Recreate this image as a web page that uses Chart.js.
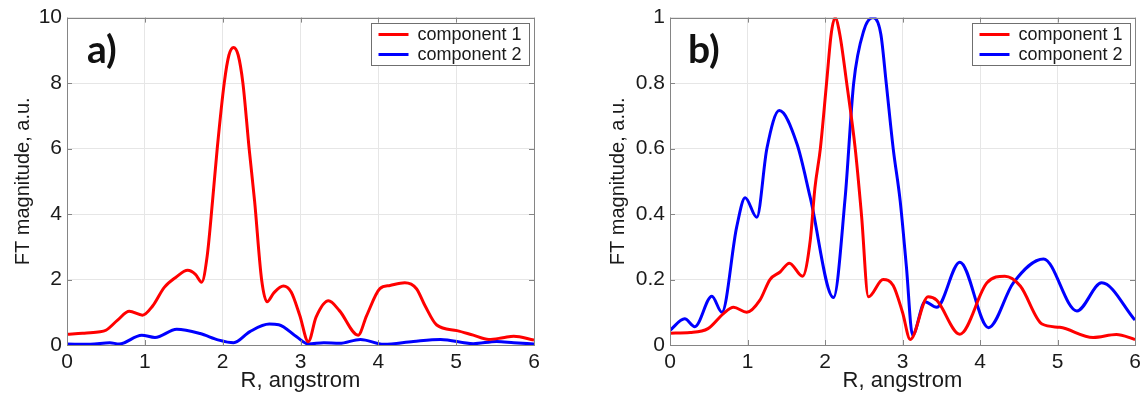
<!DOCTYPE html>
<html>
<head>
<meta charset="utf-8">
<script src="https://cdn.jsdelivr.net/npm/chart.js@4.4.1/dist/chart.umd.min.js"></script>
<style>
  html, body { margin: 0; padding: 0; background: #ffffff; }
  body { width: 1146px; height: 398px; position: relative; overflow: hidden; }
  .wrap { position: absolute; top: 0; width: 573px; height: 398px; }
  #wa { left: 0; }
  #wb { left: 573px; }
</style>
</head>
<body>
<div class="wrap" id="wa"><canvas id="ca" width="573" height="398"></canvas></div>
<div class="wrap" id="wb"><canvas id="cb" width="573" height="398"></canvas></div>
<script>
// ---------- data ----------
const seriesLabels = ['component 1', 'component 2'];
const panelLabels = ['a)', 'b)'];
const xTitle = 'R, angstrom';
const yTitle = 'FT magnitude, a.u.';
const xTicks = [0, 1, 2, 3, 4, 5, 6];
const yTicksA = [0, 2, 4, 6, 8, 10];
const yTicksB = [0, 0.2, 0.4, 0.6, 0.8, 1];

// panel a) component 1
const rA1 = [0, 0.2, 0.4, 0.5, 0.65, 0.8, 0.97, 1.1, 1.25, 1.4, 1.55, 1.65, 1.73, 1.8, 1.87, 1.93, 2.02, 2.08, 2.14, 2.2, 2.26, 2.34, 2.41, 2.5, 2.57, 2.66, 2.78, 2.88, 2.99, 3.1, 3.2, 3.36, 3.5, 3.74, 3.85, 4.02, 4.15, 4.34, 4.49, 4.6, 4.75, 5.01, 5.22, 5.42, 5.6, 5.74, 6.0];
const vA1 = [0.33, 0.36, 0.40, 0.45, 0.76, 1.03, 0.91, 1.19, 1.76, 2.07, 2.28, 2.16, 1.92, 2.7, 4.4, 6.0, 8.0, 8.85, 9.09, 8.85, 8.0, 6.0, 4.4, 2.0, 1.32, 1.6, 1.80, 1.62, 0.91, 0.10, 0.85, 1.35, 1.05, 0.30, 0.9, 1.72, 1.82, 1.90, 1.72, 1.2, 0.61, 0.44, 0.30, 0.17, 0.22, 0.27, 0.15];
// panel a) component 2
const rA2 = [0, 0.3, 0.55, 0.67, 0.96, 1.13, 1.41, 1.71, 1.95, 2.14, 2.35, 2.6, 2.72, 2.95, 3.1, 3.3, 3.5, 3.77, 4.07, 4.45, 4.8, 5.22, 5.52, 5.74, 6.0];
const vA2 = [0.03, 0.02, 0.07, 0.03, 0.30, 0.23, 0.48, 0.35, 0.15, 0.07, 0.41, 0.64, 0.62, 0.25, 0.03, 0.07, 0.05, 0.17, 0.02, 0.11, 0.17, 0.04, 0.11, 0.07, 0.03];
// panel b) component 1
const rB1 = [0, 0.26, 0.49, 0.69, 0.82, 0.99, 1.16, 1.29, 1.42, 1.54, 1.71, 1.81, 1.87, 1.94, 2.02, 2.08, 2.13, 2.19, 2.28, 2.39, 2.47, 2.56, 2.75, 2.88, 3.0, 3.1, 3.33, 3.44, 3.74, 4.09, 4.32, 4.52, 4.8, 5.03, 5.46, 5.76, 6.0];
const vB1 = [0.036, 0.038, 0.05, 0.096, 0.115, 0.10, 0.137, 0.20, 0.223, 0.25, 0.21, 0.32, 0.48, 0.6, 0.8, 0.95, 1.0, 0.95, 0.8, 0.6, 0.40, 0.147, 0.20, 0.182, 0.10, 0.017, 0.147, 0.137, 0.033, 0.19, 0.21, 0.18, 0.064, 0.054, 0.023, 0.032, 0.017];
// panel b) component 2
const rB2 = [0, 0.19, 0.32, 0.54, 0.67, 0.86, 0.97, 1.12, 1.25, 1.41, 1.64, 1.81, 2.11, 2.26, 2.37, 2.5, 2.62, 2.72, 2.79, 2.88, 2.97, 3.05, 3.13, 3.29, 3.44, 3.74, 4.11, 4.43, 4.82, 5.25, 5.57, 6.0];
const vB2 = [0.045, 0.08, 0.056, 0.149, 0.10, 0.36, 0.45, 0.39, 0.6, 0.716, 0.613, 0.45, 0.145, 0.45, 0.8, 0.96, 1.0, 0.95, 0.8, 0.6, 0.44, 0.24, 0.03, 0.132, 0.115, 0.253, 0.053, 0.19, 0.263, 0.104, 0.19, 0.076];

// ---------- styling ----------
const RED = '#ff0000';
const BLUE = '#0000ff';
const TXT = '#1a1a1a';
const GRID = '#e6e6e6';
const FRAME = '#858585';
const FONT = "'Liberation Sans', Arial, sans-serif";

function pts(xs, ys) { return xs.map((x, i) => ({ x: x, y: ys[i] })); }

const framePlugin = {
  id: 'frame',
  afterDatasetsDraw(chart, args, opts) {
    const { ctx, chartArea: a, scales } = chart;
    ctx.save();
    ctx.strokeStyle = FRAME;
    ctx.lineWidth = 1;
    ctx.beginPath();
    const tl = 5;
    scales.y.ticks.forEach(t => {
      const y = Math.round(scales.y.getPixelForValue(t.value)) + 0.5;
      ctx.moveTo(a.left, y); ctx.lineTo(a.left + tl, y);
      ctx.moveTo(a.right, y); ctx.lineTo(a.right - tl, y);
    });
    scales.x.ticks.forEach(t => {
      const x = Math.round(scales.x.getPixelForValue(t.value)) + 0.5;
      ctx.moveTo(x, a.bottom); ctx.lineTo(x, a.bottom - tl);
      ctx.moveTo(x, a.top); ctx.lineTo(x, a.top + tl);
    });
    ctx.stroke();
    ctx.strokeRect(Math.round(a.left) + 0.5, Math.round(a.top) + 0.5,
                   Math.round(a.right - a.left), Math.round(a.bottom - a.top));

    // legend box (built from the datasets)
    const bw = 158, bh = 42;
    const bx = Math.round(a.right - 5 - bw) + 0.5, by = Math.round(a.top + 5) + 0.5;
    ctx.fillStyle = '#ffffff';
    ctx.fillRect(bx, by, bw, bh);
    ctx.strokeStyle = '#6f6f6f';
    ctx.strokeRect(bx, by, bw, bh);
    ctx.font = '18px ' + FONT;
    ctx.textBaseline = 'middle';
    ctx.textAlign = 'left';
    chart.data.datasets.forEach((ds, i) => {
      const yy = by + 11 + i * 20;
      ctx.strokeStyle = ds.borderColor;
      ctx.lineWidth = 3;
      ctx.beginPath();
      ctx.moveTo(bx + 7, yy); ctx.lineTo(bx + 37, yy);
      ctx.stroke();
      ctx.fillStyle = TXT;
      ctx.fillText(ds.label, bx + 46, yy + 1);
    });

    // panel label
    ctx.fillStyle = '#111111';
    ctx.font = "bold 39px Lato, 'Open Sans', sans-serif";
    ctx.textBaseline = 'alphabetic';
    ctx.fillText(opts.text, opts.x, opts.y);
    ctx.restore();
  }
};

function makeChart(canvasId, d1, d2, yTicks, yMax, yFmt, padLeft, yWidth, padRight, panelText, labelX) {
  return new Chart(document.getElementById(canvasId), {
    type: 'line',
    data: {
      datasets: [
        { label: seriesLabels[0], data: d1, borderColor: RED, backgroundColor: RED,
          borderWidth: 3, pointRadius: 0, cubicInterpolationMode: 'monotone' },
        { label: seriesLabels[1], data: d2, borderColor: BLUE, backgroundColor: BLUE,
          borderWidth: 3, pointRadius: 0, cubicInterpolationMode: 'monotone' }
      ]
    },
    options: {
      responsive: false,
      animation: false,
      events: [],
      layout: { padding: { left: padLeft, right: padRight, top: 16, bottom: 4 } },
      plugins: {
        legend: { display: false },
        tooltip: { enabled: false },
        frame: { text: panelText, x: labelX, y: 63 }
      },
      scales: {
        x: {
          type: 'linear', min: 0, max: 6,
          afterBuildTicks: s => { s.ticks = xTicks.map(v => ({ value: v })); },
          afterFit: s => { s.height = 49; },
          ticks: { color: TXT, font: { family: FONT, size: 21 }, padding: 5, maxRotation: 0 },
          grid: { color: GRID, drawTicks: false },
          border: { display: false },
          title: { display: true, text: xTitle, color: TXT, font: { family: FONT, size: 22 }, padding: 0 }
        },
        y: {
          type: 'linear', min: 0, max: yMax,
          afterBuildTicks: s => { s.ticks = yTicks.map(v => ({ value: v })); },
          afterFit: s => { s.width = yWidth; },
          ticks: { color: TXT, font: { family: FONT, size: 21 }, padding: 5, callback: yFmt },
          grid: { color: GRID, drawTicks: false },
          border: { display: false },
          title: { display: true, text: yTitle, color: TXT, font: { family: FONT, size: 20 }, padding: 0 }
        }
      }
    },
    plugins: [framePlugin]
  });
}

makeChart('ca', pts(rA1, vA1), pts(rA2, vA2), yTicksA, 10, v => String(v), 11, 56, 39, panelLabels[0], 87);
makeChart('cb', pts(rB1, vB1), pts(rB2, vB2), yTicksB, 1, v => String(Math.round(v * 10) / 10), 33, 64, 11, panelLabels[1], 115);
</script>
</body>
</html>
